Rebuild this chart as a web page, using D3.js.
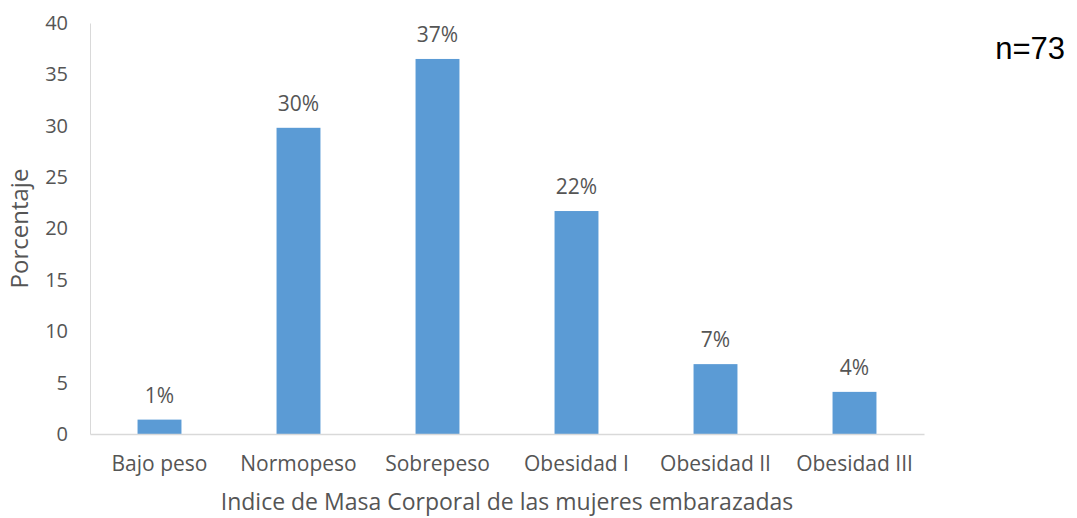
<!DOCTYPE html>
<html lang="es">
<head>
<meta charset="utf-8">
<title>Indice de Masa Corporal de las mujeres embarazadas</title>
<script src="https://cdn.jsdelivr.net/npm/d3@7"></script>
<style>
  html, body { margin: 0; padding: 0; background: #ffffff; }
  svg { display: block; }
  .tick-label, .cat-label, .value-label, .axis-title { font-family: "Open Sans", sans-serif; fill: #555555; }
  .sample-size { font-family: "Liberation Sans", Arial, sans-serif; fill: #000000; }
</style>
</head>
<body>
<svg id="chart" width="1077" height="518"></svg>
<script>
// Distribución del IMC en mujeres embarazadas (porcentaje)
const categorias = ["Bajo peso", "Normopeso", "Sobrepeso", "Obesidad I", "Obesidad II", "Obesidad III"];
const porcentajes = [1.4, 29.8, 36.5, 21.7, 6.8, 4.1];
const ticksY = [0, 5, 10, 15, 20, 25, 30, 35, 40];
const tituloX = "Indice de Masa Corporal de las mujeres embarazadas";
const tituloY = "Porcentaje";
const muestra = "n=73";

const svg = d3.select("#chart");
const margin = { left: 90, right: 153, top: 23, bottom: 84 };
const W = 1077, H = 518;
const plotW = W - margin.left - margin.right;
const plotH = H - margin.top - margin.bottom;

const x = d3.scaleBand()
  .domain(categorias)
  .range([margin.left, margin.left + plotW])
  .paddingInner(0.684)
  .paddingOuter(0.342);

const y = d3.scaleLinear()
  .domain([0, 40])
  .range([margin.top + plotH, margin.top]);

const datos = categorias.map((c, i) => ({ cat: c, val: porcentajes[i] }));

// Barras
svg.append("g")
  .selectAll("rect")
  .data(datos)
  .join("rect")
  .attr("x", d => x(d.cat))
  .attr("y", d => y(d.val))
  .attr("width", x.bandwidth())
  .attr("height", d => y(0) - y(d.val))
  .attr("fill", "#5b9bd5");

// Eje Y
const ejeY = svg.append("g")
  .attr("transform", `translate(${margin.left},0)`)
  .call(d3.axisLeft(y).tickValues(ticksY).tickSize(0).tickPadding(22));
ejeY.select(".domain").attr("stroke", "#d9d9d9").attr("stroke-width", 1);
ejeY.selectAll(".tick text")
  .attr("class", "tick-label")
  .style("font-size", "20px")
  .attr("fill", "#555555");

// Eje X
const ejeX = svg.append("g")
  .attr("transform", `translate(0,${y(0)})`)
  .call(d3.axisBottom(x).tickSize(0).tickPadding(22));
ejeX.select(".domain").attr("stroke", "#d9d9d9").attr("stroke-width", 1.5);
ejeX.selectAll(".tick text")
  .attr("class", "cat-label")
  .style("font-size", "21px")
  .attr("fill", "#555555");

// Etiquetas de valor
svg.append("g")
  .selectAll("text")
  .data(datos)
  .join("text")
  .attr("class", "value-label")
  .attr("x", d => x(d.cat) + x.bandwidth() / 2)
  .attr("y", d => y(d.val) - 17)
  .attr("text-anchor", "middle")
  .style("font-size", "21px")
  .text(d => Math.round(d.val) + "%");

// Títulos de ejes
svg.append("text")
  .attr("class", "axis-title")
  .attr("x", 507)
  .attr("y", 510)
  .attr("text-anchor", "middle")
  .style("font-size", "23px")
  .text(tituloX);

svg.append("text")
  .attr("class", "axis-title")
  .attr("transform", `translate(28,${(y(0) + y(40)) / 2}) rotate(-90)`)
  .attr("text-anchor", "middle")
  .style("font-size", "24px")
  .text(tituloY);

// Tamaño de muestra
svg.append("text")
  .attr("class", "sample-size")
  .attr("x", 1065)
  .attr("y", 59)
  .attr("text-anchor", "end")
  .style("font-size", "31px")
  .text(muestra);
</script>
</body>
</html>
